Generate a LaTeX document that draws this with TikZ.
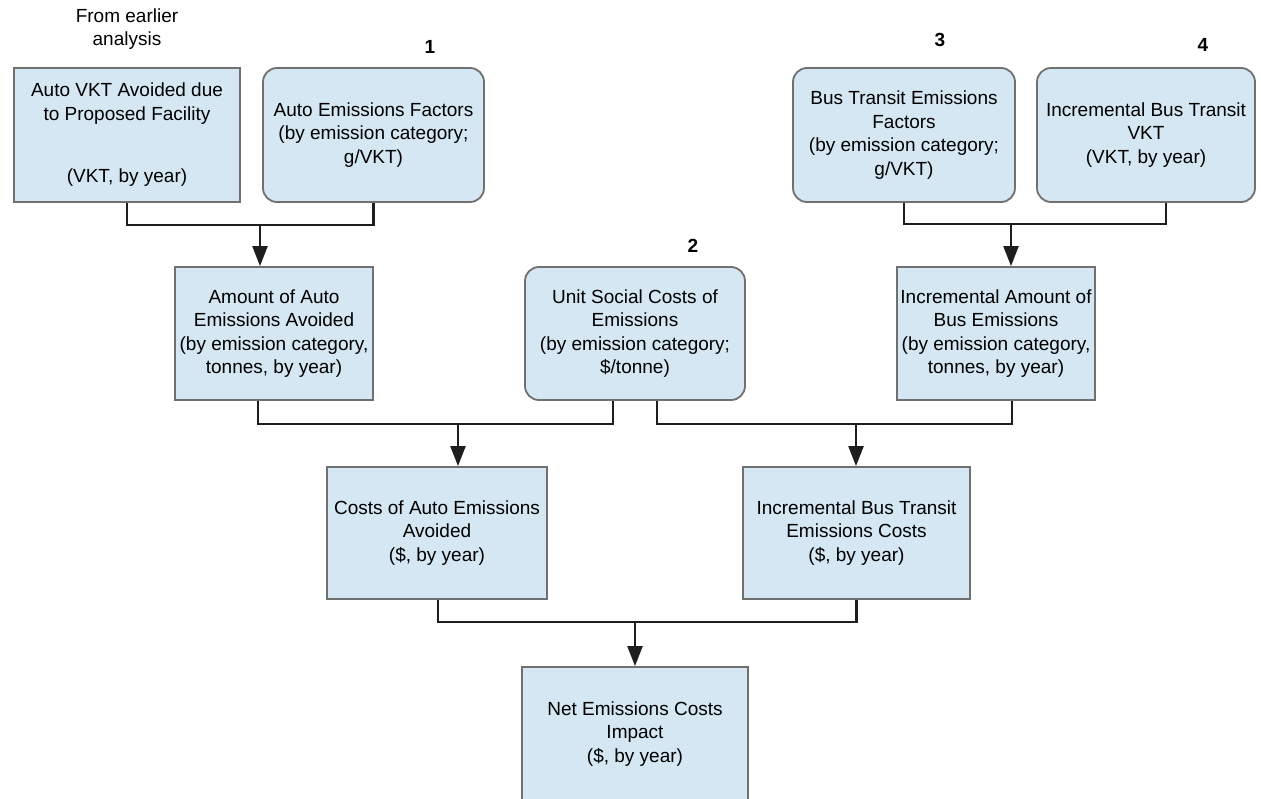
\documentclass[tikz,border=0pt]{standalone}
\usepackage{fontspec}
\setmainfont{Liberation Sans}
\usetikzlibrary{arrows.meta}
\definecolor{boxfill}{RGB}{213,231,242}
\definecolor{boxedge}{RGB}{112,112,112}
\definecolor{wire}{RGB}{30,30,30}
\begin{document}
\begin{tikzpicture}[x=1pt,y=-1pt,
  txt/.style={font=\fontsize{19}{23.5}\selectfont, align=center, inner sep=0pt},
  num/.style={txt, font=\fontsize{19}{23.5}\selectfont\bfseries},
  sqbox/.style={txt, draw=boxedge, line width=1.8pt, fill=boxfill},
  rbox/.style={sqbox, rounded corners=14pt},
  wire/.style={draw=wire, line width=2.2pt},
  feed/.style={wire, -{Triangle[width=15pt,length=20pt]}}]

\useasboundingbox (0,0) rectangle (1261,798);
\fill[white] (0,0) rectangle (1261,798);

% inputs
\node[sqbox, minimum width=226pt, minimum height=134pt] (avkt) at (127,135)
  {Auto VKT Avoided due\\to Proposed Facility\\[39pt](VKT, by year)};
\node[rbox, minimum width=221pt, minimum height=134pt] (aef) at (373.5,135)
  {Auto Emissions Factors\\(by emission category;\\g/VKT)};
\node[rbox, minimum width=222pt, minimum height=134pt] (bef) at (904,135)
  {Bus Transit Emissions\\Factors\\(by emission category;\\g/VKT)};
\node[rbox, minimum width=218pt, minimum height=134pt] (bvkt) at (1146,135)
  {Incremental Bus Transit\\VKT\\(VKT, by year)};

% intermediate quantities
\node[sqbox, minimum width=198pt, minimum height=133pt] (amt) at (274,333.5)
  {Amount of Auto\\Emissions Avoided\\(by emission category,\\tonnes, by year)};
\node[rbox, minimum width=220pt, minimum height=133pt] (usc) at (635,333.5)
  {Unit Social Costs of\\Emissions\\(by emission category;\\\$/tonne)};
\node[sqbox, minimum width=198pt, minimum height=133pt] (bam) at (996,333.5)
  {Incremental Amount of\\Bus Emissions\\(by emission category,\\tonnes, by year)};

% costs
\node[sqbox, minimum width=220pt, minimum height=132pt] (cae) at (437,533)
  {Costs of Auto Emissions\\Avoided\\(\$, by year)};
\node[sqbox, minimum width=227pt, minimum height=132pt] (ibc) at (856.5,533)
  {Incremental Bus Transit\\Emissions Costs\\(\$, by year)};

% result
\node[sqbox, minimum width=226pt, minimum height=134pt] (net) at (635,734)
  {Net Emissions Costs\\Impact\\(\$, by year)};

% annotations
\node[txt] (src) at (127,29) {From earlier\\analysis};
\node[num] (n1) at (430,47) {1};
\node[num] (n2) at (693,246) {2};
\node[num] (n3) at (940,40) {3};
\node[num] (n4) at (1203,45) {4};

% junction points
\coordinate (j1) at (260,225);
\coordinate (j2) at (1011,224);
\coordinate (j3) at (458,424);
\coordinate (j4) at (856,424);
\coordinate (j5) at (635,622);

% connectors
\draw[wire] (avkt.south) |- (j1) -| (aef.south);
\draw[feed] (j1) -- (j1 |- amt.north);
\draw[wire] (bef.south) |- (j2) -| ([xshift=20pt]bvkt.south);
\draw[feed] (j2) -- (j2 |- bam.north);
\draw[wire] ([xshift=-16pt]amt.south) |- (j3) -| ([xshift=-22pt]usc.south);
\draw[feed] (j3) -- (j3 |- cae.north);
\draw[wire] ([xshift=22pt]usc.south) |- (j4) -| ([xshift=16pt]bam.south);
\draw[feed] (j4) -- (j4 |- ibc.north);
\draw[wire] ([xshift=1pt]cae.south) |- (j5) -| (ibc.south);
\draw[feed] (j5) -- (net.north);
\end{tikzpicture}
\end{document}
